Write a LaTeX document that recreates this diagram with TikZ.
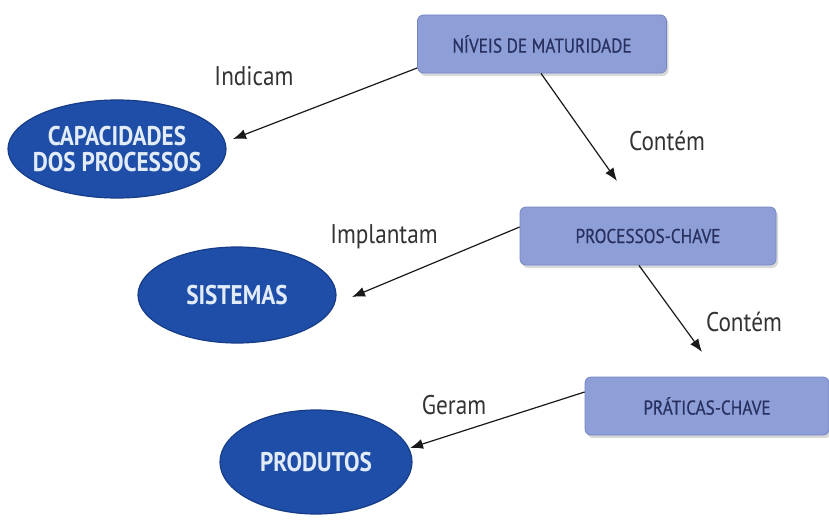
\documentclass[tikz,border=0pt]{standalone}
\usepackage{fontspec}
\setmainfont{PT Sans}
\newfontfamily\narrowsans[FakeStretch=0.86]{PT Sans}
\newfontfamily\boxsans[FakeStretch=0.86,FakeBold=0.5]{PT Sans}
\usetikzlibrary{shapes.geometric,arrows.meta,shadows}
\definecolor{boxfill}{HTML}{8E9FD8}
\definecolor{boxedge}{HTML}{7585C4}
\definecolor{boxtext}{HTML}{283060}
\definecolor{ovalfill}{HTML}{1F4EA8}
\definecolor{ovaledge}{HTML}{173C88}
\definecolor{ovaltext}{HTML}{E2ECF8}
\begin{document}
\begin{tikzpicture}[x=1pt,y=-1pt,
  levelbox/.style={draw=boxedge,line width=0.8pt,fill=boxfill,rounded corners=6pt,
    minimum height=58pt,inner sep=0pt,text=boxtext,
    font=\boxsans\fontsize{20}{22}\selectfont,
    drop shadow={shadow xshift=2pt,shadow yshift=-3pt,fill=black!30,opacity=0.5}},
  oval/.style={ellipse,draw=ovaledge,line width=1.2pt,fill=ovalfill,inner sep=0pt},
  ovaltitle/.style={text=ovaltext,font=\narrowsans\fontsize{27}{28}\bfseries\selectfont,
    align=center,inner sep=0pt},
  link/.style={draw=black!90,line width=1.2pt,-{Latex[length=13pt,width=10pt]}},
  linklabel/.style={font=\narrowsans\fontsize{27}{29}\selectfont,text=black!80}]
\useasboundingbox (0,0) rectangle (829,519);
% process boxes
\node[levelbox,minimum width=249pt] (niveis) at (542,44) {NÍVEIS DE MATURIDADE};
\node[levelbox,minimum width=256pt] (proc) at (648,236) {PROCESSOS-CHAVE};
\node[levelbox,minimum width=244pt] (prat) at (707,406) {PRÁTICAS-CHAVE};
% outcome ellipses
\node[oval,minimum width=218pt,minimum height=98pt] (cap) at (117,149) {};
\node[oval,minimum width=198pt,minimum height=96pt] (sis) at (237,295) {};
\node[oval,minimum width=192pt,minimum height=104pt] (prod) at (316,462) {};
\node[ovaltitle] (captext) at (cap.center) {CAPACIDADES\\[-2pt]DOS PROCESSOS};
\node[ovaltitle] (sistext) at (sis.center) {SISTEMAS};
\node[ovaltitle] (prodtext) at (prod.center) {PRODUTOS};
% arrow end points
\coordinate (capin) at (233,139);
\coordinate (sisin) at (352,297);
\coordinate (prodin) at (410,448);
\coordinate (procin) at (617,181);
\coordinate (pratin) at (702,352);
% connectors
\draw[link] ([yshift=-24pt]niveis.west) -- (capin);
\draw[link] ([xshift=-1pt]niveis.south) -- (procin);
\draw[link] ([yshift=9pt]proc.west) -- (sisin);
\draw[link] ([xshift=-9pt]proc.south) -- (pratin);
\draw[link] ([yshift=14pt]prat.west) -- (prodin);
% connector labels
\node[linklabel] (lindicam) at (254,76) {Indicam};
\node[linklabel] (lcontem1) at (667,141) {Contém};
\node[linklabel] (limplantam) at (384,237) {Implantam};
\node[linklabel] (lcontem2) at (744,322) {Contém};
\node[linklabel] (lgeram) at (454,405) {Geram};
\end{tikzpicture}
\end{document}
